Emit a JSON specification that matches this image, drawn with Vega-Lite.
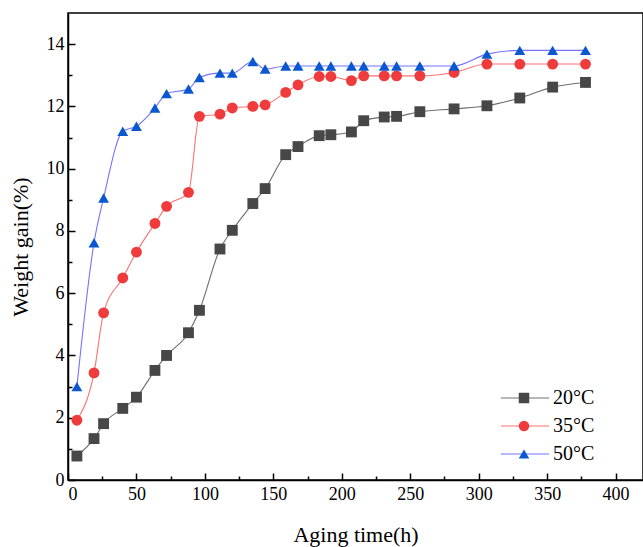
{
  "$schema": "https://vega.github.io/schema/vega-lite/v6.json",
  "width": 575,
  "height": 467,
  "autosize": {"type": "none"},
  "padding": {"left": 68, "top": 13, "right": 0, "bottom": 67},
  "config": {
    "font": "Liberation Serif, Times New Roman, serif",
    "view": {"stroke": "black", "strokeWidth": 1.5},
    "axis": {
      "domainColor": "black", "domainWidth": 1.5, "tickColor": "black", "tickWidth": 1.5,
      "labelColor": "black", "labelFont": "Liberation Serif, Times New Roman, serif", "labelFontSize": 18,
      "titleFont": "Liberation Serif, Times New Roman, serif", "titleFontSize": 22, "titleFontWeight": "normal", "titleColor": "black",
      "grid": false
    },
    "legend": {
      "labelFont": "Liberation Serif, Times New Roman, serif"
    }
  },
  "data": {
    "values": [
      {"t": 6.5, "w": 0.77, "T": "20°C"}, {"t": 19, "w": 1.33, "T": "20°C"}, {"t": 26, "w": 1.81, "T": "20°C"},
      {"t": 40, "w": 2.30, "T": "20°C"}, {"t": 50, "w": 2.66, "T": "20°C"}, {"t": 63.5, "w": 3.52, "T": "20°C"},
      {"t": 72, "w": 4.00, "T": "20°C"}, {"t": 88, "w": 4.73, "T": "20°C"}, {"t": 96, "w": 5.45, "T": "20°C"},
      {"t": 111, "w": 7.42, "T": "20°C"}, {"t": 120, "w": 8.02, "T": "20°C"}, {"t": 135, "w": 8.88, "T": "20°C"},
      {"t": 144, "w": 9.36, "T": "20°C"}, {"t": 159, "w": 10.45, "T": "20°C"}, {"t": 168, "w": 10.71, "T": "20°C"},
      {"t": 183.5, "w": 11.06, "T": "20°C"}, {"t": 192, "w": 11.09, "T": "20°C"}, {"t": 207, "w": 11.18, "T": "20°C"},
      {"t": 216, "w": 11.54, "T": "20°C"}, {"t": 231, "w": 11.66, "T": "20°C"}, {"t": 240, "w": 11.68, "T": "20°C"},
      {"t": 257, "w": 11.83, "T": "20°C"}, {"t": 282, "w": 11.92, "T": "20°C"}, {"t": 306, "w": 12.02, "T": "20°C"},
      {"t": 330, "w": 12.27, "T": "20°C"}, {"t": 354, "w": 12.62, "T": "20°C"}, {"t": 378, "w": 12.77, "T": "20°C"},
      {"t": 6.5, "w": 1.92, "T": "35°C"}, {"t": 19, "w": 3.44, "T": "35°C"}, {"t": 26, "w": 5.37, "T": "35°C"},
      {"t": 40, "w": 6.49, "T": "35°C"}, {"t": 50, "w": 7.32, "T": "35°C"}, {"t": 63.5, "w": 8.24, "T": "35°C"},
      {"t": 72, "w": 8.79, "T": "35°C"}, {"t": 88, "w": 9.24, "T": "35°C"}, {"t": 96, "w": 11.68, "T": "35°C"},
      {"t": 111, "w": 11.75, "T": "35°C"}, {"t": 120, "w": 11.95, "T": "35°C"}, {"t": 135, "w": 12.0, "T": "35°C"},
      {"t": 144, "w": 12.05, "T": "35°C"}, {"t": 159, "w": 12.45, "T": "35°C"}, {"t": 168, "w": 12.69, "T": "35°C"},
      {"t": 183.5, "w": 12.96, "T": "35°C"}, {"t": 192, "w": 12.96, "T": "35°C"}, {"t": 207, "w": 12.83, "T": "35°C"},
      {"t": 216, "w": 12.98, "T": "35°C"}, {"t": 231, "w": 12.98, "T": "35°C"}, {"t": 240, "w": 12.98, "T": "35°C"},
      {"t": 257, "w": 12.98, "T": "35°C"}, {"t": 282, "w": 13.09, "T": "35°C"}, {"t": 306, "w": 13.36, "T": "35°C"},
      {"t": 330, "w": 13.36, "T": "35°C"}, {"t": 354, "w": 13.36, "T": "35°C"}, {"t": 378, "w": 13.36, "T": "35°C"},
      {"t": 6.5, "w": 3.0, "T": "50°C"}, {"t": 19, "w": 7.62, "T": "50°C"}, {"t": 26, "w": 9.06, "T": "50°C"},
      {"t": 40, "w": 11.2, "T": "50°C"}, {"t": 50, "w": 11.36, "T": "50°C"}, {"t": 63.5, "w": 11.95, "T": "50°C"},
      {"t": 72, "w": 12.41, "T": "50°C"}, {"t": 88, "w": 12.56, "T": "50°C"}, {"t": 96, "w": 12.93, "T": "50°C"},
      {"t": 111, "w": 13.07, "T": "50°C"}, {"t": 120, "w": 13.07, "T": "50°C"}, {"t": 135, "w": 13.44, "T": "50°C"},
      {"t": 144, "w": 13.2, "T": "50°C"}, {"t": 159, "w": 13.3, "T": "50°C"}, {"t": 168, "w": 13.3, "T": "50°C"},
      {"t": 183.5, "w": 13.3, "T": "50°C"}, {"t": 192, "w": 13.3, "T": "50°C"}, {"t": 207, "w": 13.3, "T": "50°C"},
      {"t": 216, "w": 13.3, "T": "50°C"}, {"t": 231, "w": 13.3, "T": "50°C"}, {"t": 240, "w": 13.3, "T": "50°C"},
      {"t": 257, "w": 13.3, "T": "50°C"}, {"t": 282, "w": 13.3, "T": "50°C"}, {"t": 306, "w": 13.68, "T": "50°C"},
      {"t": 330, "w": 13.8, "T": "50°C"}, {"t": 354, "w": 13.8, "T": "50°C"}, {"t": 378, "w": 13.8, "T": "50°C"}
    ]
  },
  "encoding": {
    "x": {
      "field": "t", "type": "quantitative",
      "scale": {"domain": [0, 420], "nice": false, "zero": false},
      "axis": {
        "orient": "bottom",
        "title": "Aging time(h)",
        "values": [0, 25, 50, 75, 100, 125, 150, 175, 200, 225, 250, 275, 300, 325, 350, 375, 400],
        "labelExpr": "datum.value % 50 === 0 ? datum.label : ''",
        "tickSize": {"condition": {"test": "datum.value % 50 === 0", "value": -7}, "value": -4},
        "labelPadding": 12,
        "titlePadding": 21
      }
    },
    "y": {
      "field": "w", "type": "quantitative",
      "scale": {"domain": [0, 15], "nice": false, "zero": false},
      "axis": {
        "orient": "left",
        "title": "Weight gain(%)",
        "values": [0, 1, 2, 3, 4, 5, 6, 7, 8, 9, 10, 11, 12, 13, 14],
        "labelExpr": "datum.value % 2 === 0 ? datum.label : ''",
        "tickSize": {"condition": {"test": "datum.value % 2 === 0", "value": -7}, "value": -4},
        "labelPadding": 11,
        "titlePadding": 14
      }
    }
  },
  "layer": [
    {
      "mark": {"type": "line", "interpolate": "monotone", "strokeWidth": 1.1},
      "encoding": {
        "color": {
          "field": "T", "type": "nominal",
          "scale": {"range": ["#6e6e6e", "#ff7070", "#7373ff"]},
          "legend": {
            "title": null, "orient": "none", "legendX": 447, "legendY": 375,
            "labelFontSize": 20, "labelColor": "black", "labelOpacity": 0,
            "symbolType": "M-4.6,0H4.6", "symbolStrokeWidth": 1.1, "symbolOpacity": 1,
            "symbolSize": 110, "labelOffset": 19, "rowPadding": 8
          }
        }
      }
    },
    {
      "mark": {"type": "point", "filled": true, "size": 118, "opacity": 1},
      "encoding": {
        "fill": {
          "field": "T", "type": "nominal",
          "scale": {"domain": ["20°C", "35°C", "50°C"], "range": ["#474747", "#ef3b3b", "#0a57cf"]},
          "legend": {
            "title": null, "orient": "none", "legendX": 446, "legendY": 375,
            "labelFontSize": 20, "labelColor": "black", "symbolOpacity": 1,
            "symbolSize": 110, "labelOffset": 19, "rowPadding": 8
          }
        },
        "shape": {
          "field": "T", "type": "nominal",
          "scale": {"domain": ["20°C", "35°C", "50°C"], "range": ["square", "circle", "triangle-up"]},
          "legend": {
            "title": null, "orient": "none", "legendX": 446, "legendY": 375,
            "labelFontSize": 20, "labelColor": "black", "symbolOpacity": 1,
            "symbolSize": 110, "labelOffset": 19, "rowPadding": 8
          }
        }
      }
    }
  ]
}
